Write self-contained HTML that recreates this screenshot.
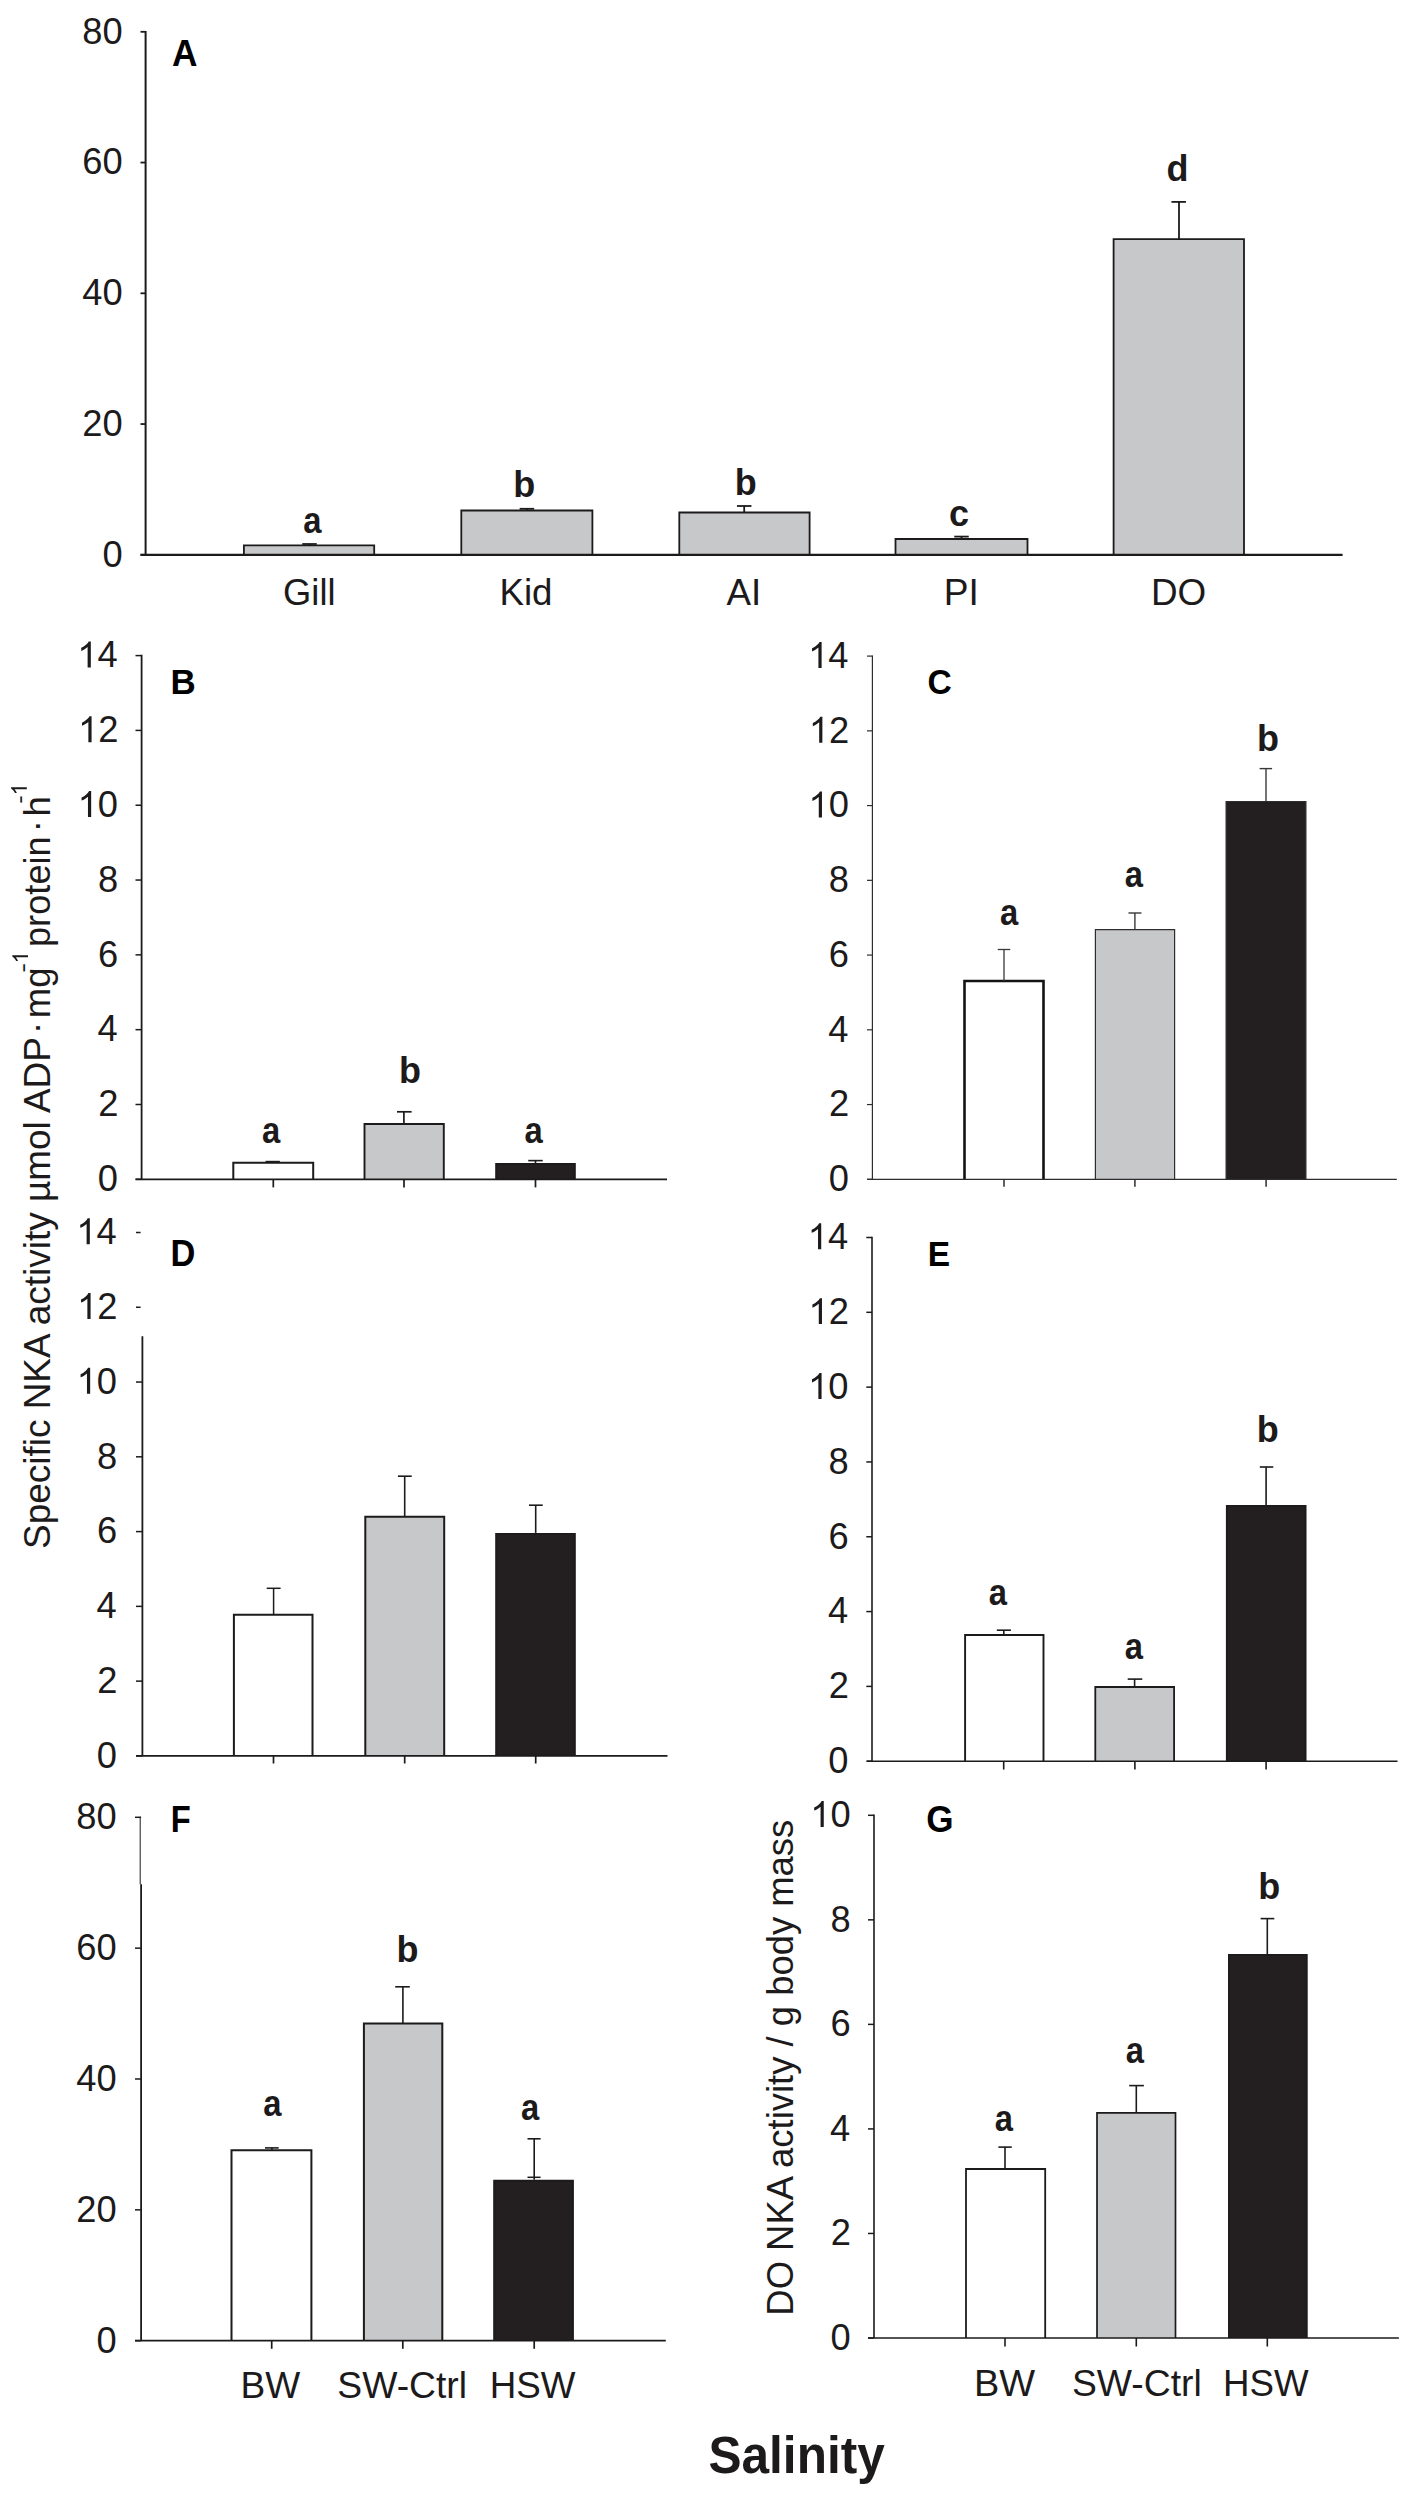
<!DOCTYPE html>
<html><head><meta charset="utf-8"><title>NKA activity figure</title>
<style>
html,body{margin:0;padding:0;background:#fff;}
body{width:1409px;height:2500px;overflow:hidden;}
svg{display:block;}
text{font-family:"Liberation Sans", sans-serif;fill:#1c1a1b;}
</style></head><body>
<svg width="1409" height="2500" viewBox="0 0 1409 2500">
<rect x="0" y="0" width="1409" height="2500" fill="#ffffff"/>
<line x1="145.6" y1="30.9" x2="145.6" y2="554.8" stroke="#1c1a1b" stroke-width="2"/>
<line x1="140.5" y1="31.8" x2="145.6" y2="31.8" stroke="#1c1a1b" stroke-width="1.8"/>
<line x1="140.5" y1="162.55" x2="145.6" y2="162.55" stroke="#1c1a1b" stroke-width="1.8"/>
<line x1="140.5" y1="293.3" x2="145.6" y2="293.3" stroke="#1c1a1b" stroke-width="1.8"/>
<line x1="140.5" y1="424.05" x2="145.6" y2="424.05" stroke="#1c1a1b" stroke-width="1.8"/>
<line x1="140.5" y1="554.8" x2="145.6" y2="554.8" stroke="#1c1a1b" stroke-width="1.8"/>
<text transform="translate(82.34,43.7) scale(1,1.03)" font-size="36.3">8</text>
<text transform="translate(102.53,43.7) scale(1,1.03)" font-size="36.3">0</text>
<text transform="translate(82.34,174.45) scale(1,1.03)" font-size="36.3">6</text>
<text transform="translate(102.53,174.45) scale(1,1.03)" font-size="36.3">0</text>
<text transform="translate(82.34,305.2) scale(1,1.03)" font-size="36.3">4</text>
<text transform="translate(102.53,305.2) scale(1,1.03)" font-size="36.3">0</text>
<text transform="translate(82.34,435.95) scale(1,1.03)" font-size="36.3">2</text>
<text transform="translate(102.53,435.95) scale(1,1.03)" font-size="36.3">0</text>
<text transform="translate(102.53,566.7) scale(1,1.03)" font-size="36.3">0</text>
<path d="M243.9 554.8V545.3H374.2V554.8Z" fill="#c7c8ca" stroke="none"/>
<path d="M243.9 554.8V545.3H374.2V554.8" fill="none" stroke="#1c1a1b" stroke-width="1.8" stroke-linejoin="miter" stroke-linecap="butt"/>
<path d="M461.3 554.8V510.5H592.4V554.8Z" fill="#c7c8ca" stroke="none"/>
<path d="M461.3 554.8V510.5H592.4V554.8" fill="none" stroke="#1c1a1b" stroke-width="1.8" stroke-linejoin="miter" stroke-linecap="butt"/>
<path d="M679.3 554.8V512.5H809.6V554.8Z" fill="#c7c8ca" stroke="none"/>
<path d="M679.3 554.8V512.5H809.6V554.8" fill="none" stroke="#1c1a1b" stroke-width="1.8" stroke-linejoin="miter" stroke-linecap="butt"/>
<path d="M895.5 554.8V539H1027.5V554.8Z" fill="#c7c8ca" stroke="none"/>
<path d="M895.5 554.8V539H1027.5V554.8" fill="none" stroke="#1c1a1b" stroke-width="1.8" stroke-linejoin="miter" stroke-linecap="butt"/>
<path d="M1113.6 554.8V239.2H1244V554.8Z" fill="#c7c8ca" stroke="none"/>
<path d="M1113.6 554.8V239.2H1244V554.8" fill="none" stroke="#1c1a1b" stroke-width="1.8" stroke-linejoin="miter" stroke-linecap="butt"/>
<line x1="309.5" y1="544" x2="309.5" y2="545.3" stroke="#1c1a1b" stroke-width="1.8"/>
<line x1="302.25" y1="544" x2="316.75" y2="544" stroke="#1c1a1b" stroke-width="1.8"/>
<line x1="526.9" y1="508.8" x2="526.9" y2="510.5" stroke="#1c1a1b" stroke-width="1.8"/>
<line x1="519.65" y1="508.8" x2="534.15" y2="508.8" stroke="#1c1a1b" stroke-width="1.8"/>
<line x1="744.2" y1="506" x2="744.2" y2="512.5" stroke="#1c1a1b" stroke-width="1.8"/>
<line x1="736.95" y1="506" x2="751.45" y2="506" stroke="#1c1a1b" stroke-width="1.8"/>
<line x1="961.5" y1="536.6" x2="961.5" y2="539" stroke="#1c1a1b" stroke-width="1.8"/>
<line x1="954.25" y1="536.6" x2="968.75" y2="536.6" stroke="#1c1a1b" stroke-width="1.8"/>
<line x1="1179" y1="201.9" x2="1179" y2="239.2" stroke="#1c1a1b" stroke-width="1.8"/>
<line x1="1171.45" y1="201.9" x2="1185.95" y2="201.9" stroke="#1c1a1b" stroke-width="1.8"/>
<text transform="translate(303.26,532.85) scale(0.9100,1.0200)" font-size="36" font-weight="bold">a</text>
<text x="513.31" y="496.65" font-size="36" font-weight="bold">b</text>
<text x="734.76" y="495.05" font-size="36" font-weight="bold">b</text>
<text x="949.06" y="525.65" font-size="36" font-weight="bold">c</text>
<text x="1166.55" y="181.25" font-size="36" font-weight="bold">d</text>
<text transform="translate(172.12,65.6) scale(0.9813,1.0000)" font-size="36" font-weight="bold" style="fill:#000">A</text>
<text transform="translate(283.07,604.6) scale(0.9816,1.0000)" font-size="37">Gill</text>
<text transform="translate(499.39,604.6) scale(0.9926,1.0000)" font-size="37">Kid</text>
<text transform="translate(726.43,604.6) scale(0.9945,1.0000)" font-size="37">AI</text>
<text transform="translate(943.66,604.6) scale(1.0032,1.0000)" font-size="37">PI</text>
<text transform="translate(1150.88,604.6) scale(0.9962,1.0000)" font-size="37">DO</text>
<line x1="141.6" y1="654.8" x2="141.6" y2="1179.3" stroke="#1c1a1b" stroke-width="1.8"/>
<line x1="135.5" y1="655.6" x2="141.6" y2="655.6" stroke="#1c1a1b" stroke-width="1.5"/>
<line x1="135.5" y1="730.41" x2="141.6" y2="730.41" stroke="#1c1a1b" stroke-width="1.5"/>
<line x1="135.5" y1="805.23" x2="141.6" y2="805.23" stroke="#1c1a1b" stroke-width="1.5"/>
<line x1="135.5" y1="880.04" x2="141.6" y2="880.04" stroke="#1c1a1b" stroke-width="1.5"/>
<line x1="135.5" y1="954.86" x2="141.6" y2="954.86" stroke="#1c1a1b" stroke-width="1.5"/>
<line x1="135.5" y1="1029.67" x2="141.6" y2="1029.67" stroke="#1c1a1b" stroke-width="1.5"/>
<line x1="135.5" y1="1104.49" x2="141.6" y2="1104.49" stroke="#1c1a1b" stroke-width="1.5"/>
<line x1="135.5" y1="1179.3" x2="141.6" y2="1179.3" stroke="#1c1a1b" stroke-width="1.5"/>
<path transform="translate(77.29,667.4) scale(0.01772,-0.01772)" d="M763 0L583 0L583 1147C540 1106 483 1064 413 1023C343 982 280 951 223 930L223 1104C324 1151 412 1209 487 1276C562 1343 615 1407 646 1466L763 1466Z" fill="#1c1a1b"/>
<text transform="translate(97.48,667.4) scale(1,1.03)" font-size="36.3">4</text>
<path transform="translate(78.05,742.21) scale(0.01772,-0.01772)" d="M763 0L583 0L583 1147C540 1106 483 1064 413 1023C343 982 280 951 223 930L223 1104C324 1151 412 1209 487 1276C562 1343 615 1407 646 1466L763 1466Z" fill="#1c1a1b"/>
<text transform="translate(98.24,742.21) scale(1,1.03)" font-size="36.3">2</text>
<path transform="translate(77.64,817.03) scale(0.01772,-0.01772)" d="M763 0L583 0L583 1147C540 1106 483 1064 413 1023C343 982 280 951 223 930L223 1104C324 1151 412 1209 487 1276C562 1343 615 1407 646 1466L763 1466Z" fill="#1c1a1b"/>
<text transform="translate(97.83,817.03) scale(1,1.03)" font-size="36.3">0</text>
<text transform="translate(97.99,891.84) scale(1,1.03)" font-size="36.3">8</text>
<text transform="translate(98.01,966.66) scale(1,1.03)" font-size="36.3">6</text>
<text transform="translate(97.48,1041.47) scale(1,1.03)" font-size="36.3">4</text>
<text transform="translate(98.24,1116.29) scale(1,1.03)" font-size="36.3">2</text>
<text transform="translate(97.83,1191.1) scale(1,1.03)" font-size="36.3">0</text>
<path d="M233.3 1179.3V1162.8H313.2V1179.3Z" fill="#fff" stroke="none"/>
<path d="M233.3 1179.3V1162.8H313.2V1179.3" fill="none" stroke="#1c1a1b" stroke-width="2" stroke-linejoin="miter" stroke-linecap="butt"/>
<path d="M364.5 1179.3V1124H443.8V1179.3Z" fill="#c7c8ca" stroke="none"/>
<path d="M364.5 1179.3V1124H443.8V1179.3" fill="none" stroke="#1c1a1b" stroke-width="1.9" stroke-linejoin="miter" stroke-linecap="butt"/>
<path d="M496.15 1179.3V1163.95H574.85V1179.3Z" fill="#231f20" stroke="none"/>
<path d="M496.15 1179.3V1163.95H574.85V1179.3" fill="none" stroke="#1c1a1b" stroke-width="1.9" stroke-linejoin="miter" stroke-linecap="butt"/>
<line x1="272.7" y1="1161.6" x2="272.7" y2="1162.6" stroke="#1c1a1b" stroke-width="1.6"/>
<line x1="265.55" y1="1161.6" x2="279.85" y2="1161.6" stroke="#1c1a1b" stroke-width="1.6"/>
<line x1="403.9" y1="1111.8" x2="403.9" y2="1124" stroke="#1c1a1b" stroke-width="1.7"/>
<line x1="397" y1="1111.8" x2="411.6" y2="1111.8" stroke="#1c1a1b" stroke-width="1.7"/>
<line x1="535.5" y1="1160.6" x2="535.5" y2="1163" stroke="#1c1a1b" stroke-width="1.6"/>
<line x1="528.25" y1="1160.6" x2="542.75" y2="1160.6" stroke="#1c1a1b" stroke-width="1.6"/>
<line x1="273.3" y1="1179.3" x2="273.3" y2="1187.4" stroke="#1c1a1b" stroke-width="1.7"/>
<line x1="404" y1="1179.3" x2="404" y2="1187.4" stroke="#1c1a1b" stroke-width="1.7"/>
<line x1="535.5" y1="1179.3" x2="535.5" y2="1187.4" stroke="#1c1a1b" stroke-width="1.7"/>
<text transform="translate(262.11,1142.95) scale(0.9100,1.0200)" font-size="36" font-weight="bold">a</text>
<text x="398.91" y="1082.65" font-size="36" font-weight="bold">b</text>
<text transform="translate(524.56,1142.95) scale(0.9100,1.0200)" font-size="36" font-weight="bold">a</text>
<text transform="translate(170.46,693.9) scale(0.9702,1.0000)" font-size="36" font-weight="bold" style="fill:#000">B</text>
<line x1="872.4" y1="655.6" x2="872.4" y2="1179.3" stroke="#2e2c2d" stroke-width="1.2"/>
<line x1="867" y1="656.1" x2="872.4" y2="656.1" stroke="#2e2c2d" stroke-width="1.2"/>
<line x1="867" y1="730.84" x2="872.4" y2="730.84" stroke="#2e2c2d" stroke-width="1.2"/>
<line x1="867" y1="805.59" x2="872.4" y2="805.59" stroke="#2e2c2d" stroke-width="1.2"/>
<line x1="867" y1="880.33" x2="872.4" y2="880.33" stroke="#2e2c2d" stroke-width="1.2"/>
<line x1="867" y1="955.07" x2="872.4" y2="955.07" stroke="#2e2c2d" stroke-width="1.2"/>
<line x1="867" y1="1029.81" x2="872.4" y2="1029.81" stroke="#2e2c2d" stroke-width="1.2"/>
<line x1="867" y1="1104.56" x2="872.4" y2="1104.56" stroke="#2e2c2d" stroke-width="1.2"/>
<line x1="867" y1="1179.3" x2="872.4" y2="1179.3" stroke="#2e2c2d" stroke-width="1.2"/>
<path transform="translate(808.09,667.9) scale(0.01772,-0.01772)" d="M763 0L583 0L583 1147C540 1106 483 1064 413 1023C343 982 280 951 223 930L223 1104C324 1151 412 1209 487 1276C562 1343 615 1407 646 1466L763 1466Z" fill="#1c1a1b"/>
<text transform="translate(828.28,667.9) scale(1,1.03)" font-size="36.3">4</text>
<path transform="translate(808.85,742.64) scale(0.01772,-0.01772)" d="M763 0L583 0L583 1147C540 1106 483 1064 413 1023C343 982 280 951 223 930L223 1104C324 1151 412 1209 487 1276C562 1343 615 1407 646 1466L763 1466Z" fill="#1c1a1b"/>
<text transform="translate(829.04,742.64) scale(1,1.03)" font-size="36.3">2</text>
<path transform="translate(808.44,817.39) scale(0.01772,-0.01772)" d="M763 0L583 0L583 1147C540 1106 483 1064 413 1023C343 982 280 951 223 930L223 1104C324 1151 412 1209 487 1276C562 1343 615 1407 646 1466L763 1466Z" fill="#1c1a1b"/>
<text transform="translate(828.63,817.39) scale(1,1.03)" font-size="36.3">0</text>
<text transform="translate(828.79,892.13) scale(1,1.03)" font-size="36.3">8</text>
<text transform="translate(828.81,966.87) scale(1,1.03)" font-size="36.3">6</text>
<text transform="translate(828.28,1041.61) scale(1,1.03)" font-size="36.3">4</text>
<text transform="translate(829.04,1116.36) scale(1,1.03)" font-size="36.3">2</text>
<text transform="translate(828.63,1191.1) scale(1,1.03)" font-size="36.3">0</text>
<path d="M964.5 1179.3V981H1043.5V1179.3Z" fill="#fff" stroke="none"/>
<path d="M964.5 1179.3V981H1043.5V1179.3" fill="none" stroke="#141213" stroke-width="2.6" stroke-linejoin="miter" stroke-linecap="butt"/>
<path d="M1095.4 1179.3V929.6H1174.6V1179.3Z" fill="#c7c8ca" stroke="none"/>
<path d="M1095.4 1179.3V929.6H1174.6V1179.3" fill="none" stroke="#2e2c2d" stroke-width="1.2" stroke-linejoin="miter" stroke-linecap="butt"/>
<path d="M1226.1 1179.3V801.5H1305.9V1179.3Z" fill="#231f20" stroke="none"/>
<path d="M1226.1 1179.3V801.5H1305.9V1179.3" fill="none" stroke="#2e2c2d" stroke-width="1.2" stroke-linejoin="miter" stroke-linecap="butt"/>
<line x1="1004" y1="949.5" x2="1004" y2="981" stroke="#3a3839" stroke-width="1.3"/>
<line x1="997.75" y1="949.5" x2="1010.25" y2="949.5" stroke="#3a3839" stroke-width="1.3"/>
<line x1="1134.9" y1="913" x2="1134.9" y2="929.6" stroke="#3a3839" stroke-width="1.4"/>
<line x1="1128.45" y1="913" x2="1141.45" y2="913" stroke="#3a3839" stroke-width="1.4"/>
<line x1="1266" y1="768.6" x2="1266" y2="800.9" stroke="#3a3839" stroke-width="1.4"/>
<line x1="1259.6" y1="768.6" x2="1272.1" y2="768.6" stroke="#3a3839" stroke-width="1.4"/>
<line x1="1004" y1="1179.4" x2="1004" y2="1186.7" stroke="#3a3839" stroke-width="1.6"/>
<line x1="1134.9" y1="1179.4" x2="1134.9" y2="1186.7" stroke="#3a3839" stroke-width="1.6"/>
<line x1="1266.1" y1="1179.4" x2="1266.1" y2="1186.7" stroke="#3a3839" stroke-width="1.6"/>
<text transform="translate(999.96,925.25) scale(0.9100,1.0200)" font-size="36" font-weight="bold">a</text>
<text transform="translate(1124.81,887.15) scale(0.9100,1.0200)" font-size="36" font-weight="bold">a</text>
<text x="1257.11" y="750.55" font-size="36" font-weight="bold">b</text>
<text transform="translate(927.42,693.96) scale(0.9347,1.0000)" font-size="36" font-weight="bold" style="fill:#000">C</text>
<line x1="142.4" y1="1336.3" x2="142.4" y2="1755.9" stroke="#1c1a1b" stroke-width="1.8"/>
<line x1="136" y1="1232.5" x2="140.6" y2="1232.5" stroke="#1c1a1b" stroke-width="1.5"/>
<line x1="136" y1="1307.27" x2="140.6" y2="1307.27" stroke="#1c1a1b" stroke-width="1.5"/>
<line x1="136" y1="1382.04" x2="142.4" y2="1382.04" stroke="#1c1a1b" stroke-width="1.5"/>
<line x1="136" y1="1456.81" x2="142.4" y2="1456.81" stroke="#1c1a1b" stroke-width="1.5"/>
<line x1="136" y1="1531.59" x2="142.4" y2="1531.59" stroke="#1c1a1b" stroke-width="1.5"/>
<line x1="136" y1="1606.36" x2="142.4" y2="1606.36" stroke="#1c1a1b" stroke-width="1.5"/>
<line x1="136" y1="1681.13" x2="142.4" y2="1681.13" stroke="#1c1a1b" stroke-width="1.5"/>
<line x1="136" y1="1755.9" x2="142.4" y2="1755.9" stroke="#1c1a1b" stroke-width="1.5"/>
<path transform="translate(76.29,1244.3) scale(0.01772,-0.01772)" d="M763 0L583 0L583 1147C540 1106 483 1064 413 1023C343 982 280 951 223 930L223 1104C324 1151 412 1209 487 1276C562 1343 615 1407 646 1466L763 1466Z" fill="#1c1a1b"/>
<text transform="translate(96.48,1244.3) scale(1,1.03)" font-size="36.3">4</text>
<path transform="translate(77.05,1319.07) scale(0.01772,-0.01772)" d="M763 0L583 0L583 1147C540 1106 483 1064 413 1023C343 982 280 951 223 930L223 1104C324 1151 412 1209 487 1276C562 1343 615 1407 646 1466L763 1466Z" fill="#1c1a1b"/>
<text transform="translate(97.24,1319.07) scale(1,1.03)" font-size="36.3">2</text>
<path transform="translate(76.64,1393.84) scale(0.01772,-0.01772)" d="M763 0L583 0L583 1147C540 1106 483 1064 413 1023C343 982 280 951 223 930L223 1104C324 1151 412 1209 487 1276C562 1343 615 1407 646 1466L763 1466Z" fill="#1c1a1b"/>
<text transform="translate(96.83,1393.84) scale(1,1.03)" font-size="36.3">0</text>
<text transform="translate(96.99,1468.61) scale(1,1.03)" font-size="36.3">8</text>
<text transform="translate(97.01,1543.39) scale(1,1.03)" font-size="36.3">6</text>
<text transform="translate(96.48,1618.16) scale(1,1.03)" font-size="36.3">4</text>
<text transform="translate(97.24,1692.93) scale(1,1.03)" font-size="36.3">2</text>
<text transform="translate(96.83,1767.7) scale(1,1.03)" font-size="36.3">0</text>
<path d="M233.9 1755.9V1614.7H312.5V1755.9Z" fill="#fff" stroke="none"/>
<path d="M233.9 1755.9V1614.7H312.5V1755.9" fill="none" stroke="#1c1a1b" stroke-width="2" stroke-linejoin="miter" stroke-linecap="butt"/>
<path d="M365.3 1755.9V1516.7H444.2V1755.9Z" fill="#c7c8ca" stroke="none"/>
<path d="M365.3 1755.9V1516.7H444.2V1755.9" fill="none" stroke="#1c1a1b" stroke-width="2" stroke-linejoin="miter" stroke-linecap="butt"/>
<path d="M496.2 1755.9V1533.9H574.8V1755.9Z" fill="#231f20" stroke="none"/>
<path d="M496.2 1755.9V1533.9H574.8V1755.9" fill="none" stroke="#1c1a1b" stroke-width="2" stroke-linejoin="miter" stroke-linecap="butt"/>
<line x1="273.6" y1="1588.3" x2="273.6" y2="1614.7" stroke="#1c1a1b" stroke-width="1.5"/>
<line x1="266.7" y1="1588.3" x2="280.6" y2="1588.3" stroke="#1c1a1b" stroke-width="1.5"/>
<line x1="404.7" y1="1476.2" x2="404.7" y2="1516.7" stroke="#1c1a1b" stroke-width="1.6"/>
<line x1="397.9" y1="1476.2" x2="411.7" y2="1476.2" stroke="#1c1a1b" stroke-width="1.6"/>
<line x1="535.7" y1="1505.2" x2="535.7" y2="1532.9" stroke="#1c1a1b" stroke-width="1.6"/>
<line x1="529" y1="1505.2" x2="542.7" y2="1505.2" stroke="#1c1a1b" stroke-width="1.6"/>
<line x1="273.5" y1="1755.9" x2="273.5" y2="1763.5" stroke="#1c1a1b" stroke-width="1.7"/>
<line x1="404.7" y1="1755.9" x2="404.7" y2="1763.5" stroke="#1c1a1b" stroke-width="1.7"/>
<line x1="535.7" y1="1755.9" x2="535.7" y2="1763.5" stroke="#1c1a1b" stroke-width="1.7"/>
<text transform="translate(170.6,1265.9) scale(0.9557,1.0000)" font-size="36" font-weight="bold" style="fill:#000">D</text>
<line x1="872" y1="1236.7" x2="872" y2="1761.2" stroke="#1c1a1b" stroke-width="1.6"/>
<line x1="866.3" y1="1237.5" x2="872" y2="1237.5" stroke="#1c1a1b" stroke-width="1.5"/>
<line x1="866.3" y1="1312.31" x2="872" y2="1312.31" stroke="#1c1a1b" stroke-width="1.5"/>
<line x1="866.3" y1="1387.13" x2="872" y2="1387.13" stroke="#1c1a1b" stroke-width="1.5"/>
<line x1="866.3" y1="1461.94" x2="872" y2="1461.94" stroke="#1c1a1b" stroke-width="1.5"/>
<line x1="866.3" y1="1536.76" x2="872" y2="1536.76" stroke="#1c1a1b" stroke-width="1.5"/>
<line x1="866.3" y1="1611.57" x2="872" y2="1611.57" stroke="#1c1a1b" stroke-width="1.5"/>
<line x1="866.3" y1="1686.39" x2="872" y2="1686.39" stroke="#1c1a1b" stroke-width="1.5"/>
<line x1="866.3" y1="1761.2" x2="872" y2="1761.2" stroke="#1c1a1b" stroke-width="1.5"/>
<path transform="translate(807.69,1249.3) scale(0.01772,-0.01772)" d="M763 0L583 0L583 1147C540 1106 483 1064 413 1023C343 982 280 951 223 930L223 1104C324 1151 412 1209 487 1276C562 1343 615 1407 646 1466L763 1466Z" fill="#1c1a1b"/>
<text transform="translate(827.88,1249.3) scale(1,1.03)" font-size="36.3">4</text>
<path transform="translate(808.45,1324.11) scale(0.01772,-0.01772)" d="M763 0L583 0L583 1147C540 1106 483 1064 413 1023C343 982 280 951 223 930L223 1104C324 1151 412 1209 487 1276C562 1343 615 1407 646 1466L763 1466Z" fill="#1c1a1b"/>
<text transform="translate(828.64,1324.11) scale(1,1.03)" font-size="36.3">2</text>
<path transform="translate(808.04,1398.93) scale(0.01772,-0.01772)" d="M763 0L583 0L583 1147C540 1106 483 1064 413 1023C343 982 280 951 223 930L223 1104C324 1151 412 1209 487 1276C562 1343 615 1407 646 1466L763 1466Z" fill="#1c1a1b"/>
<text transform="translate(828.23,1398.93) scale(1,1.03)" font-size="36.3">0</text>
<text transform="translate(828.39,1473.74) scale(1,1.03)" font-size="36.3">8</text>
<text transform="translate(828.41,1548.56) scale(1,1.03)" font-size="36.3">6</text>
<text transform="translate(827.88,1623.37) scale(1,1.03)" font-size="36.3">4</text>
<text transform="translate(828.64,1698.19) scale(1,1.03)" font-size="36.3">2</text>
<text transform="translate(828.23,1773) scale(1,1.03)" font-size="36.3">0</text>
<path d="M965.1 1761.2V1635H1043.5V1761.2Z" fill="#fff" stroke="none"/>
<path d="M965.1 1761.2V1635H1043.5V1761.2" fill="none" stroke="#1c1a1b" stroke-width="1.9" stroke-linejoin="miter" stroke-linecap="butt"/>
<path d="M1095.3 1761.2V1687H1174.1V1761.2Z" fill="#c7c8ca" stroke="none"/>
<path d="M1095.3 1761.2V1687H1174.1V1761.2" fill="none" stroke="#1c1a1b" stroke-width="1.8" stroke-linejoin="miter" stroke-linecap="butt"/>
<path d="M1226.8 1761.2V1505.9H1305.6V1761.2Z" fill="#231f20" stroke="none"/>
<path d="M1226.8 1761.2V1505.9H1305.6V1761.2" fill="none" stroke="#1c1a1b" stroke-width="1.8" stroke-linejoin="miter" stroke-linecap="butt"/>
<line x1="1003.8" y1="1630.2" x2="1003.8" y2="1635" stroke="#1c1a1b" stroke-width="1.6"/>
<line x1="996.8" y1="1630.2" x2="1010.9" y2="1630.2" stroke="#1c1a1b" stroke-width="1.6"/>
<line x1="1134.6" y1="1679.1" x2="1134.6" y2="1687" stroke="#1c1a1b" stroke-width="1.6"/>
<line x1="1127.7" y1="1679.1" x2="1142.3" y2="1679.1" stroke="#1c1a1b" stroke-width="1.6"/>
<line x1="1266.1" y1="1467" x2="1266.1" y2="1505" stroke="#1c1a1b" stroke-width="1.6"/>
<line x1="1259.8" y1="1467" x2="1273.3" y2="1467" stroke="#1c1a1b" stroke-width="1.6"/>
<line x1="1003.7" y1="1761.2" x2="1003.7" y2="1769.5" stroke="#1c1a1b" stroke-width="1.6"/>
<line x1="1134.9" y1="1761.2" x2="1134.9" y2="1769.5" stroke="#1c1a1b" stroke-width="1.6"/>
<line x1="1266.1" y1="1761.2" x2="1266.1" y2="1769.5" stroke="#1c1a1b" stroke-width="1.6"/>
<text transform="translate(988.66,1605.35) scale(0.9100,1.0200)" font-size="36" font-weight="bold">a</text>
<text transform="translate(1124.81,1659.25) scale(0.9100,1.0200)" font-size="36" font-weight="bold">a</text>
<text x="1256.86" y="1442.35" font-size="36" font-weight="bold">b</text>
<text transform="translate(927.86,1265.8) scale(0.9308,1.0000)" font-size="36" font-weight="bold" style="fill:#000">E</text>
<line x1="140.2" y1="1816.8" x2="140.2" y2="1884.3" stroke="#1c1a1b" stroke-width="1"/>
<line x1="141.1" y1="1884.3" x2="141.1" y2="2340.7" stroke="#1c1a1b" stroke-width="1.8"/>
<line x1="135" y1="1817.3" x2="141.1" y2="1817.3" stroke="#1c1a1b" stroke-width="1.5"/>
<line x1="135" y1="1948.15" x2="141.1" y2="1948.15" stroke="#1c1a1b" stroke-width="1.5"/>
<line x1="135" y1="2079" x2="141.1" y2="2079" stroke="#1c1a1b" stroke-width="1.5"/>
<line x1="135" y1="2209.85" x2="141.1" y2="2209.85" stroke="#1c1a1b" stroke-width="1.5"/>
<line x1="135" y1="2340.7" x2="141.1" y2="2340.7" stroke="#1c1a1b" stroke-width="1.5"/>
<text transform="translate(76.24,1829.1) scale(1,1.03)" font-size="36.3">8</text>
<text transform="translate(96.43,1829.1) scale(1,1.03)" font-size="36.3">0</text>
<text transform="translate(76.24,1959.95) scale(1,1.03)" font-size="36.3">6</text>
<text transform="translate(96.43,1959.95) scale(1,1.03)" font-size="36.3">0</text>
<text transform="translate(76.24,2090.8) scale(1,1.03)" font-size="36.3">4</text>
<text transform="translate(96.43,2090.8) scale(1,1.03)" font-size="36.3">0</text>
<text transform="translate(76.24,2221.65) scale(1,1.03)" font-size="36.3">2</text>
<text transform="translate(96.43,2221.65) scale(1,1.03)" font-size="36.3">0</text>
<text transform="translate(96.43,2352.5) scale(1,1.03)" font-size="36.3">0</text>
<path d="M231.5 2340.7V2150.2H311.4V2340.7Z" fill="#fff" stroke="none"/>
<path d="M231.5 2340.7V2150.2H311.4V2340.7" fill="none" stroke="#1c1a1b" stroke-width="2" stroke-linejoin="miter" stroke-linecap="butt"/>
<path d="M363.9 2340.7V2023.6H442.3V2340.7Z" fill="#c7c8ca" stroke="none"/>
<path d="M363.9 2340.7V2023.6H442.3V2340.7" fill="none" stroke="#1c1a1b" stroke-width="2" stroke-linejoin="miter" stroke-linecap="butt"/>
<path d="M494.2 2340.7V2180.8H572.9V2340.7Z" fill="#231f20" stroke="none"/>
<path d="M494.2 2340.7V2180.8H572.9V2340.7" fill="none" stroke="#1c1a1b" stroke-width="2" stroke-linejoin="miter" stroke-linecap="butt"/>
<line x1="271.9" y1="2147.9" x2="271.9" y2="2150.2" stroke="#1c1a1b" stroke-width="1.6"/>
<line x1="265" y1="2147.9" x2="278.7" y2="2147.9" stroke="#1c1a1b" stroke-width="1.6"/>
<line x1="402.9" y1="1986.8" x2="402.9" y2="2023.6" stroke="#1c1a1b" stroke-width="1.6"/>
<line x1="395.2" y1="1986.8" x2="409.8" y2="1986.8" stroke="#1c1a1b" stroke-width="1.6"/>
<line x1="534.2" y1="2138.8" x2="534.2" y2="2179.8" stroke="#1c1a1b" stroke-width="1.6"/>
<line x1="527.5" y1="2138.8" x2="540.6" y2="2138.8" stroke="#1c1a1b" stroke-width="1.6"/>
<line x1="527.5" y1="2177.3" x2="540.6" y2="2177.3" stroke="#1c1a1b" stroke-width="1.5"/>
<line x1="271.7" y1="2340.7" x2="271.7" y2="2348.8" stroke="#1c1a1b" stroke-width="1.7"/>
<line x1="402.8" y1="2340.7" x2="402.8" y2="2348.8" stroke="#1c1a1b" stroke-width="1.7"/>
<line x1="534.2" y1="2340.7" x2="534.2" y2="2348.8" stroke="#1c1a1b" stroke-width="1.7"/>
<text transform="translate(263.26,2116.45) scale(0.9100,1.0200)" font-size="36" font-weight="bold">a</text>
<text x="396.51" y="1961.65" font-size="36" font-weight="bold">b</text>
<text transform="translate(521.01,2119.75) scale(0.9100,1.0200)" font-size="36" font-weight="bold">a</text>
<text transform="translate(170.71,1832) scale(0.9089,1.0000)" font-size="36" font-weight="bold" style="fill:#000">F</text>
<text transform="translate(240.46,2398.3) scale(1.0011,1.0000)" font-size="37">BW</text>
<text transform="translate(337.31,2398.3) scale(1.0071,1.0000)" font-size="37">SW-Ctrl</text>
<text transform="translate(489.68,2398.3) scale(0.9945,1.0000)" font-size="37">HSW</text>
<line x1="874" y1="1814.5" x2="874" y2="2338" stroke="#1c1a1b" stroke-width="1.6"/>
<line x1="868" y1="1815.3" x2="874" y2="1815.3" stroke="#1c1a1b" stroke-width="1.5"/>
<line x1="868" y1="1919.84" x2="874" y2="1919.84" stroke="#1c1a1b" stroke-width="1.5"/>
<line x1="868" y1="2024.38" x2="874" y2="2024.38" stroke="#1c1a1b" stroke-width="1.5"/>
<line x1="868" y1="2128.92" x2="874" y2="2128.92" stroke="#1c1a1b" stroke-width="1.5"/>
<line x1="868" y1="2233.46" x2="874" y2="2233.46" stroke="#1c1a1b" stroke-width="1.5"/>
<line x1="868" y1="2338" x2="874" y2="2338" stroke="#1c1a1b" stroke-width="1.5"/>
<path transform="translate(810.24,1827.1) scale(0.01772,-0.01772)" d="M763 0L583 0L583 1147C540 1106 483 1064 413 1023C343 982 280 951 223 930L223 1104C324 1151 412 1209 487 1276C562 1343 615 1407 646 1466L763 1466Z" fill="#1c1a1b"/>
<text transform="translate(830.43,1827.1) scale(1,1.03)" font-size="36.3">0</text>
<text transform="translate(830.59,1931.64) scale(1,1.03)" font-size="36.3">8</text>
<text transform="translate(830.61,2036.18) scale(1,1.03)" font-size="36.3">6</text>
<text transform="translate(830.08,2140.72) scale(1,1.03)" font-size="36.3">4</text>
<text transform="translate(830.84,2245.26) scale(1,1.03)" font-size="36.3">2</text>
<text transform="translate(830.43,2349.8) scale(1,1.03)" font-size="36.3">0</text>
<path d="M966 2338V2169H1045.2V2338Z" fill="#fff" stroke="none"/>
<path d="M966 2338V2169H1045.2V2338" fill="none" stroke="#1c1a1b" stroke-width="1.8" stroke-linejoin="miter" stroke-linecap="butt"/>
<path d="M1097 2338V2112.8H1175.5V2338Z" fill="#c7c8ca" stroke="none"/>
<path d="M1097 2338V2112.8H1175.5V2338" fill="none" stroke="#1c1a1b" stroke-width="1.7" stroke-linejoin="miter" stroke-linecap="butt"/>
<path d="M1228.85 2338V1954.85H1306.85V2338Z" fill="#231f20" stroke="none"/>
<path d="M1228.85 2338V1954.85H1306.85V2338" fill="none" stroke="#1c1a1b" stroke-width="1.7" stroke-linejoin="miter" stroke-linecap="butt"/>
<line x1="1005" y1="2147.1" x2="1005" y2="2169" stroke="#1c1a1b" stroke-width="1.6"/>
<line x1="998.4" y1="2147.1" x2="1011.8" y2="2147.1" stroke="#1c1a1b" stroke-width="1.6"/>
<line x1="1136.3" y1="2085.6" x2="1136.3" y2="2112.8" stroke="#1c1a1b" stroke-width="1.6"/>
<line x1="1129.2" y1="2085.6" x2="1143.9" y2="2085.6" stroke="#1c1a1b" stroke-width="1.6"/>
<line x1="1267.3" y1="1918.6" x2="1267.3" y2="1954" stroke="#1c1a1b" stroke-width="1.6"/>
<line x1="1260.6" y1="1918.6" x2="1274.3" y2="1918.6" stroke="#1c1a1b" stroke-width="1.6"/>
<line x1="1005" y1="2338" x2="1005" y2="2346.5" stroke="#1c1a1b" stroke-width="1.6"/>
<line x1="1136.3" y1="2338" x2="1136.3" y2="2346.5" stroke="#1c1a1b" stroke-width="1.6"/>
<line x1="1267.3" y1="2338" x2="1267.3" y2="2346.5" stroke="#1c1a1b" stroke-width="1.6"/>
<text transform="translate(994.76,2130.75) scale(0.9100,1.0200)" font-size="36" font-weight="bold">a</text>
<text transform="translate(1125.86,2062.65) scale(0.9100,1.0200)" font-size="36" font-weight="bold">a</text>
<text x="1258.31" y="1898.55" font-size="36" font-weight="bold">b</text>
<text transform="translate(926.36,1832.36) scale(0.9756,1.0000)" font-size="36" font-weight="bold" style="fill:#000">G</text>
<text transform="translate(973.89,2395.8) scale(1.0259,1.0000)" font-size="37">BW</text>
<text transform="translate(1071.91,2396.1) scale(1.0087,1.0000)" font-size="37">SW-Ctrl</text>
<text transform="translate(1222.99,2395.9) scale(0.9921,1.0000)" font-size="37">HSW</text>
<line x1="140.5" y1="554.8" x2="1342.6" y2="554.8" stroke="#1c1a1b" stroke-width="2.2"/>
<line x1="135.6" y1="1179.3" x2="667" y2="1179.3" stroke="#1c1a1b" stroke-width="1.8"/>
<line x1="867" y1="1179.4" x2="1396.8" y2="1179.4" stroke="#2e2c2d" stroke-width="1.2"/>
<line x1="136" y1="1755.9" x2="667.5" y2="1755.9" stroke="#1c1a1b" stroke-width="1.8"/>
<line x1="867" y1="1761.2" x2="1397.5" y2="1761.2" stroke="#1c1a1b" stroke-width="1.6"/>
<line x1="135" y1="2340.7" x2="665.8" y2="2340.7" stroke="#1c1a1b" stroke-width="1.8"/>
<line x1="868" y1="2338" x2="1398.9" y2="2338" stroke="#1c1a1b" stroke-width="1.6"/>
<text transform="translate(793,2315.68) rotate(-90)" font-size="36.3" textLength="495.99" lengthAdjust="spacingAndGlyphs">DO NKA activity / g body mass</text>
<text transform="translate(49.8,1548.96) rotate(-90)" font-size="36.5" textLength="511.9" lengthAdjust="spacingAndGlyphs">Specific NKA activity µmol ADP</text>
<text transform="translate(48.1,1033.93) rotate(-90)" font-size="36.5">·</text>
<text transform="translate(49.8,1018.22) rotate(-90)" font-size="36.5" textLength="50.67" lengthAdjust="spacingAndGlyphs">mg</text>
<text transform="translate(29.5,972.71) rotate(-90) scale(1.3405,1)" font-size="22">-</text>
<path transform="translate(28,963.4) rotate(-90) scale(0.01074,-0.01074)" d="M763 0L583 0L583 1147C540 1106 483 1064 413 1023C343 982 280 951 223 930L223 1104C324 1151 412 1209 487 1276C562 1343 615 1407 646 1466L763 1466Z" fill="#1c1a1b"/>
<text transform="translate(49.8,947.04) rotate(-90)" font-size="36.5" textLength="110.79" lengthAdjust="spacingAndGlyphs">protein</text>
<text transform="translate(48.1,832.13) rotate(-90)" font-size="36.5">·</text>
<text transform="translate(49.8,816.53) rotate(-90)" font-size="36.5">h</text>
<text transform="translate(27.4,803.73) rotate(-90) scale(1.1543,1)" font-size="22">-</text>
<path transform="translate(26.8,795.4) rotate(-90) scale(0.01074,-0.01074)" d="M763 0L583 0L583 1147C540 1106 483 1064 413 1023C343 982 280 951 223 930L223 1104C324 1151 412 1209 487 1276C562 1343 615 1407 646 1466L763 1466Z" fill="#1c1a1b"/>
<text transform="translate(708.47,2472.9) scale(0.9914,1.0200)" font-size="50" font-weight="bold">Salinity</text>
</svg>
</body></html>
